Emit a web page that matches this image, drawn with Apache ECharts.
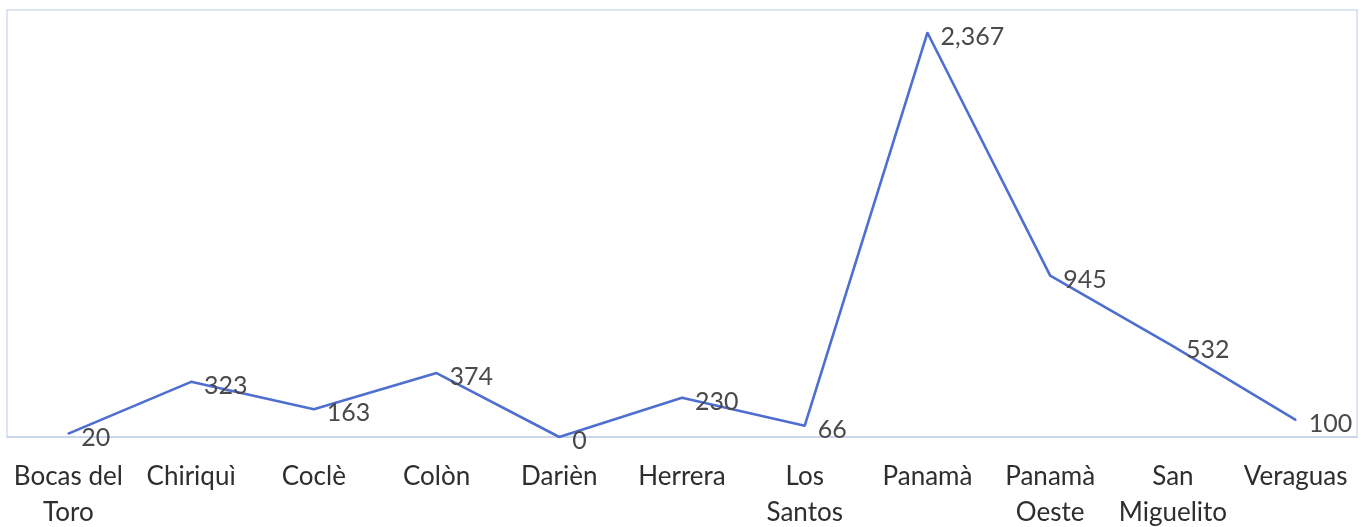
<!DOCTYPE html>
<html>
<head>
<meta charset="utf-8">
<script src="https://cdn.jsdelivr.net/npm/echarts@6/dist/echarts.min.js"></script>
<style>html,body{margin:0;padding:0;background:#fff;}#c{width:1361px;height:527px;}</style>
</head>
<body>
<div id="c"></div>
<script>
const categories = ["Bocas del\nToro", "Chiriquì", "Coclè", "Colòn", "Darièn", "Herrera", "Los\nSantos", "Panamà", "Panamà\nOeste", "San\nMiguelito", "Veraguas"];
const values = [20, 323, 163, 374, 0, 230, 66, 2367, 945, 532, 100];

const chart = echarts.init(document.getElementById('c'));
chart.setOption({
  animation: false,
  grid: { left: 7, right: 4, top: 10, bottom: 90, containLabel: false, outerBoundsMode: 'none', show: true, borderColor: '#d3ddee', borderWidth: 1.5, backgroundColor: 'transparent' },
  xAxis: {
    type: 'category',
    data: categories,
    boundaryGap: true,
    axisLine: { lineStyle: { color: '#c3d2ec', width: 1.5 } },
    axisTick: { show: false },
    axisLabel: { interval: 0, margin: 22, fontSize: 26, lineHeight: 36, color: '#2e2e2e', fontFamily: 'Lato' }
  },
  yAxis: {
    type: 'value', min: 0, max: 2500,
    show: false,
    splitLine: { show: false }
  },
  series: [{
    type: 'line',
    data: values,
    symbol: 'circle',
    symbolSize: 2,
    showSymbol: true,
    itemStyle: { color: '#4f6fd0' },
    lineStyle: { color: '#4f6fd0', width: 2.6 },
    label: {
      show: true, position: 'right', distance: 12, offset: [0, 4],
      fontSize: 25, color: '#4a4a4a', fontFamily: 'Lato',
      formatter: p => p.value.toLocaleString('en-US')
    }
  }]
});
</script>
</body>
</html>
